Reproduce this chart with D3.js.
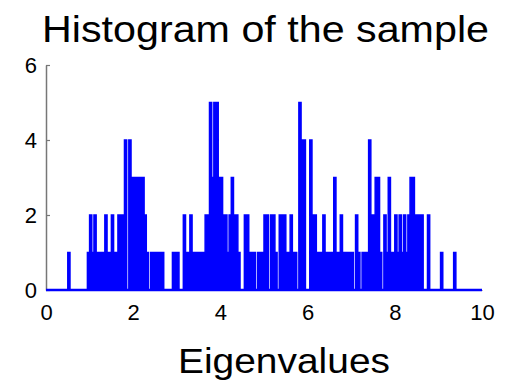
<!DOCTYPE html>
<html>
<head>
<meta charset="utf-8">
<script src="https://cdn.jsdelivr.net/npm/d3@7"></script>
<style>
  body { margin: 0; background: #fff; }
  svg text { font-family: "Liberation Sans", Arial, sans-serif; fill: #000; }
</style>
</head>
<body>
<div id="chart"></div>
<script>
// histogram of the eigenvalue sample, bins of width 0.05 on [0, 10]
const binWidth = 0.05
const binCounts = [
  0,0,0,0,0,0,0,0,0,0, 1,0,0,0,0,0,0,0,0,1,   // 0.0 - 1.0
  2,1,2,1,1,1,1,2,1,1, 2,1,1,2,2,2,4,0,4,3,   // 1.0 - 2.0
  3,3,3,3,3,2,1,0,1,1, 1,1,1,1,0,0,0,0,1,1,   // 2.0 - 3.0
  1,0,0,2,1,1,2,1,1,1, 1,1,1,2,2,5,3,5,5,3,   // 3.0 - 4.0
  3,2,2,1,2,3,2,2,1,0, 0,2,2,1,1,1,0,1,1,1,   // 4.0 - 5.0
  2,2,0,2,2,1,0,2,2,2, 1,1,2,1,1,0,5,4,4,0,   // 5.0 - 6.0
  0,4,2,2,1,1,1,2,1,1, 1,1,3,1,1,2,1,1,1,1,   // 6.0 - 7.0
  1,0,2,1,0,1,1,1,4,2, 2,3,3,1,0,2,1,3,1,1,   // 7.0 - 8.0
  2,1,2,1,2,1,2,3,3,2, 2,2,2,0,0,2,0,0,0,0,   // 8.0 - 9.0
  0,1,0,0,0,0,0,1,0,0, 0,0,0,0,0,0,0,0,0,0    // 9.0 - 10.0
]
const xDomain = [0, 10]
const yDomain = [0, 6]
const xTicks = [0, 2, 4, 6, 8, 10]
const yTicks = [0, 2, 4, 6]
const titleText = 'Histogram of the sample'
const xLabelText = 'Eigenvalues'

const W = 509, H = 385
const pl = { left: 46, right: 482, top: 65, bottom: 290 } // plot box in px

const svg = d3.select('#chart').append('svg')
  .attr('width', W)
  .attr('height', H)
  .attr('viewBox', [0, 0, W, H])

const x = d3.scaleLinear().domain(xDomain).range([pl.left, pl.right])
const y = d3.scaleLinear().domain(yDomain).range([pl.bottom, pl.top])
const fmt = d3.format('d')

// axes (drawn first so the histogram baseline covers the x axis)
const yAxis = svg.append('g')
  .attr('transform', `translate(${pl.left},0)`)
  .call(d3.axisLeft(y).tickValues(yTicks).tickFormat(fmt)
    .tickSizeInner(-4).tickSizeOuter(0).tickPadding(9))
yAxis.select('.domain').attr('stroke', '#777').attr('stroke-width', 1.5)
yAxis.selectAll('.tick line').attr('stroke', '#777').attr('stroke-width', 1.2)
yAxis.selectAll('.tick text').attr('font-size', 22).attr('fill', '#000')
  .attr('font-family', '"Liberation Sans", Arial, sans-serif')

const xAxis = svg.append('g')
  .attr('transform', `translate(0,${pl.bottom})`)
  .call(d3.axisBottom(x).tickValues(xTicks).tickFormat(fmt).tickSize(0).tickPadding(14))
xAxis.select('.domain').attr('stroke', '#777')
xAxis.selectAll('.tick text').attr('font-size', 22).attr('fill', '#000')
  .attr('font-family', '"Liberation Sans", Arial, sans-serif')

// histogram as stair steps
const bins = binCounts.map((c, i) => ({ x0: i * binWidth, count: c }))
bins.push({ x0: xDomain[1], count: 0 })

const area = d3.area()
  .curve(d3.curveStepAfter)
  .x(d => x(d.x0))
  .y0(y(0))
  .y1(d => y(d.count))

svg.append('path')
  .attr('d', area(bins))
  .attr('fill', '#0000ff')
  .attr('stroke', '#0000ff')
  .attr('stroke-width', 1.5)
  .attr('stroke-linejoin', 'miter')

svg.append('line')
  .attr('x1', x(xDomain[0])).attr('x2', x(xDomain[1]))
  .attr('y1', y(0)).attr('y2', y(0))
  .attr('stroke', '#0000ff')
  .attr('stroke-width', 2.5)

// title and x label
svg.append('text')
  .attr('x', 265.5).attr('y', 42)
  .attr('text-anchor', 'middle')
  .attr('font-size', 37)
  .attr('textLength', 447)
  .attr('lengthAdjust', 'spacingAndGlyphs')
  .text(titleText)

svg.append('text')
  .attr('x', 284).attr('y', 373)
  .attr('text-anchor', 'middle')
  .attr('font-size', 35)
  .attr('textLength', 212)
  .attr('lengthAdjust', 'spacingAndGlyphs')
  .text(xLabelText)
</script>
</body>
</html>
